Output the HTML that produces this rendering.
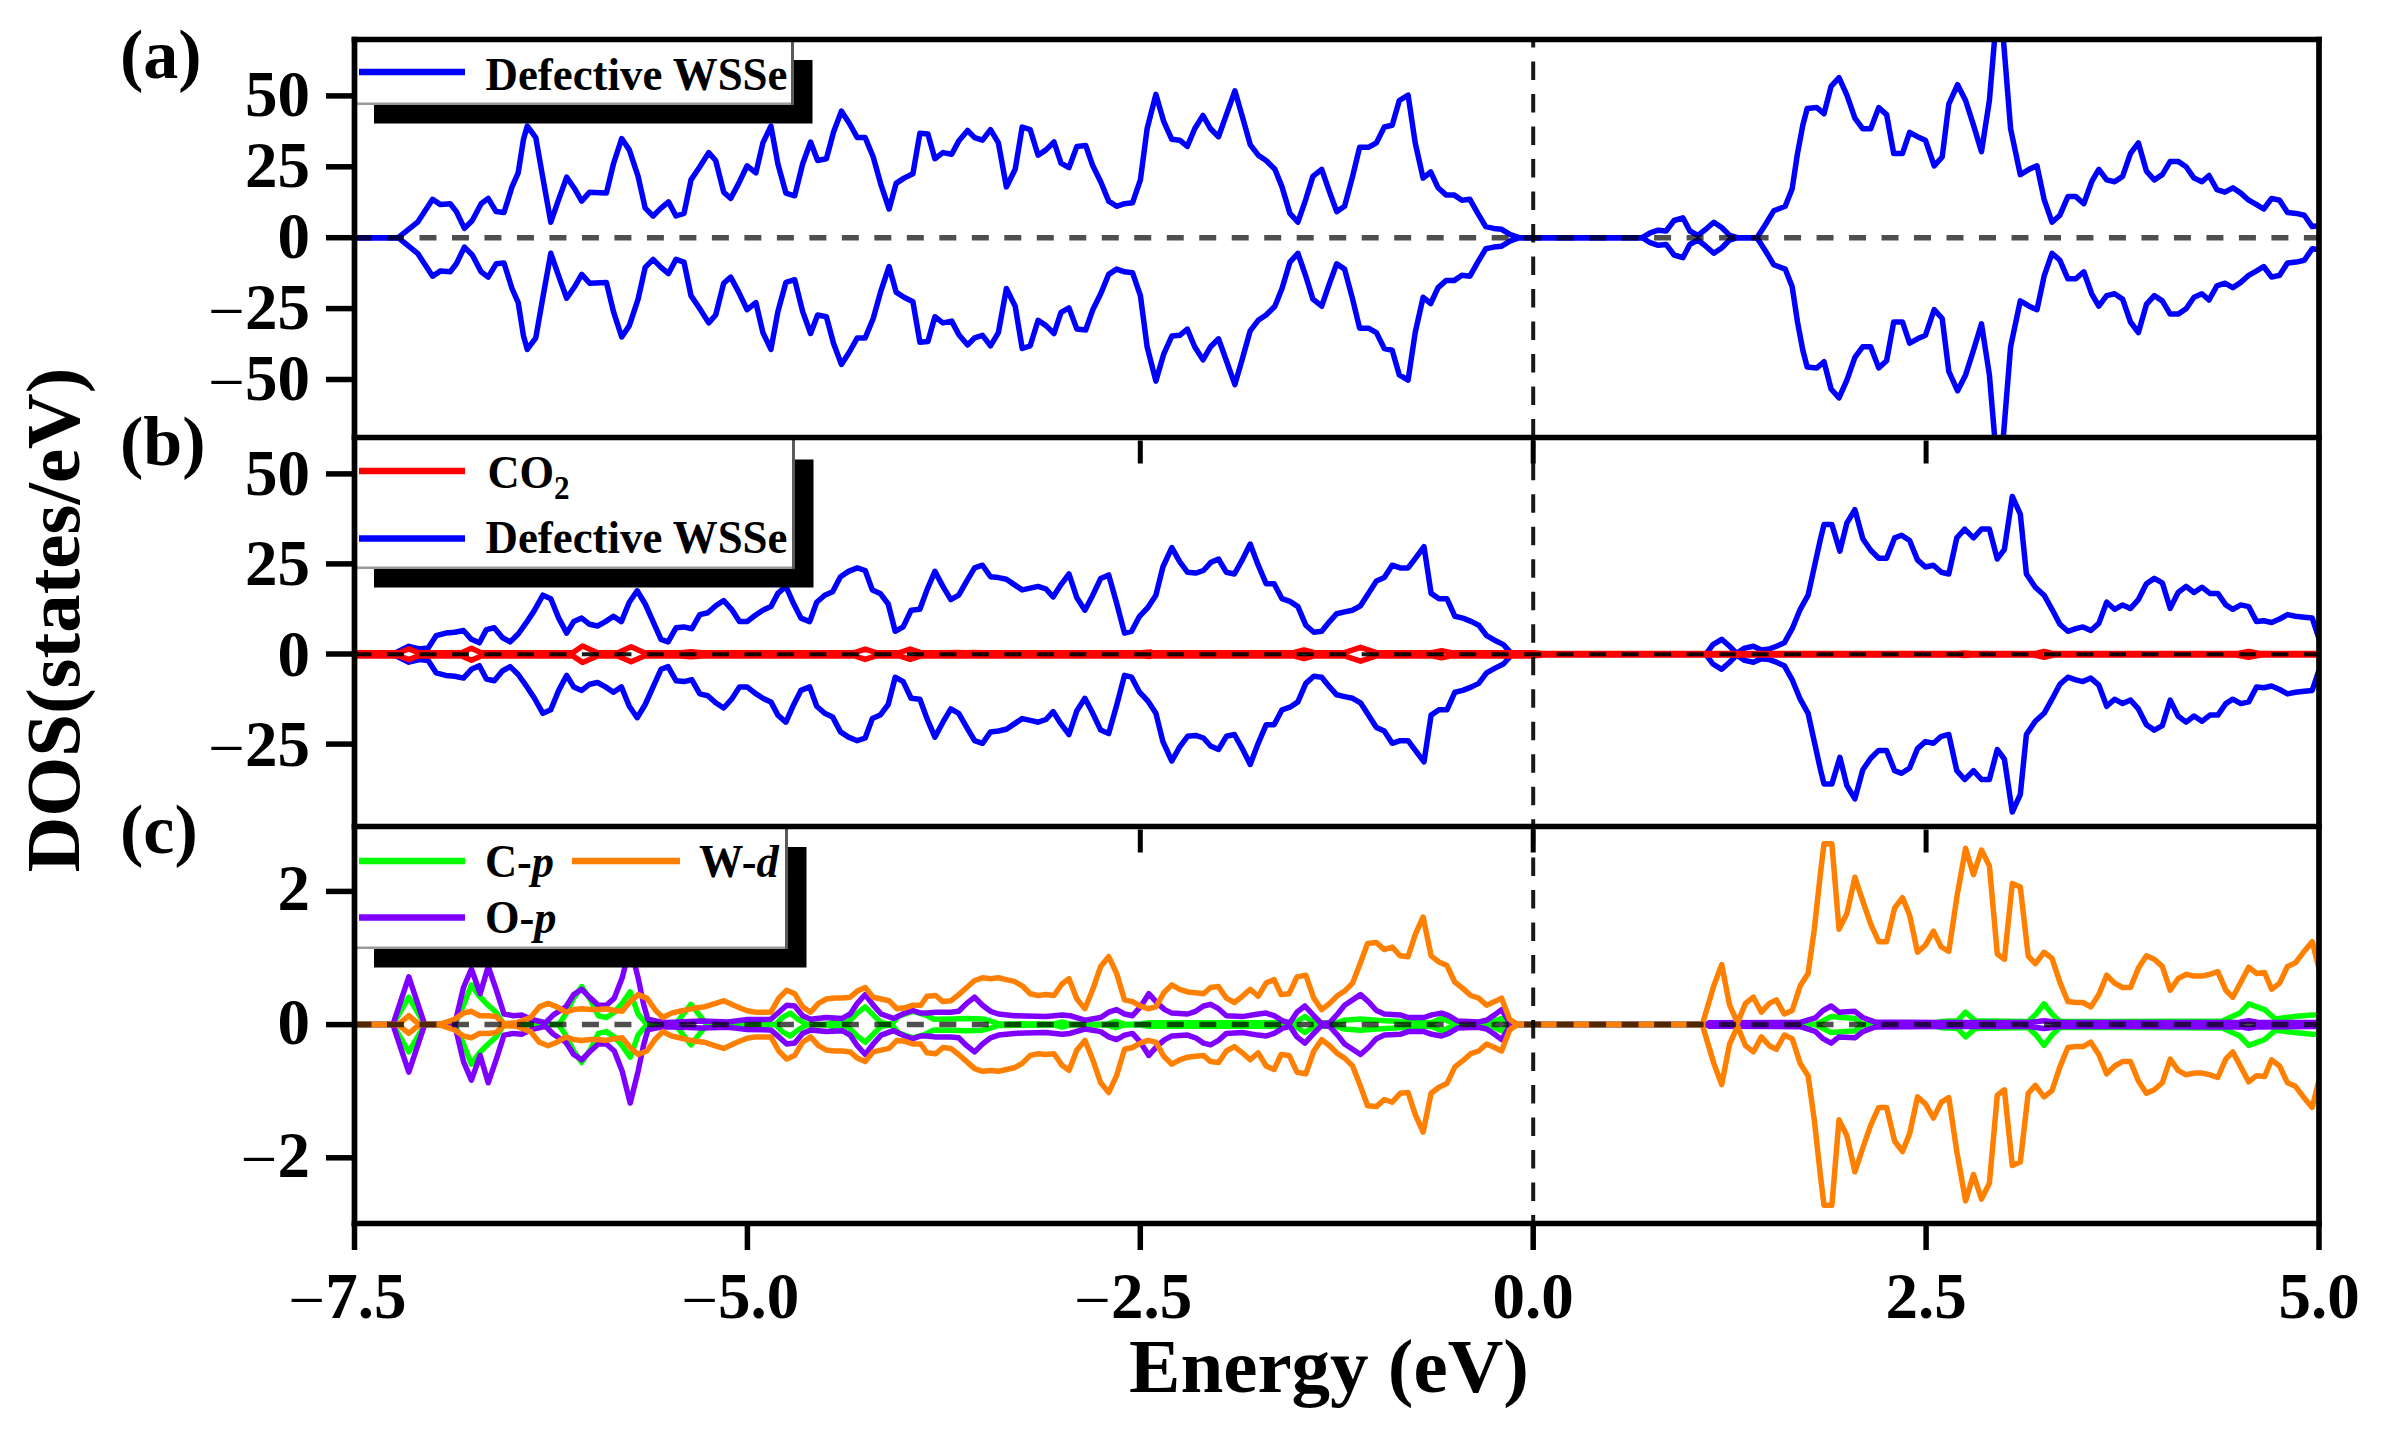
<!DOCTYPE html>
<html lang="en"><head><meta charset="utf-8"><title>DOS of defective WSSe with CO2</title>
<style>
html,body{margin:0;padding:0;background:#fff;}
body{width:2381px;height:1429px;overflow:hidden;}
svg{display:block;}
text{font-family:'Liberation Serif',serif;font-weight:bold;fill:#000;}
.m{font-weight:normal;}
.i{font-style:italic;}
</style></head>
<body>
<svg width="2381" height="1429" viewBox="0 0 2381 1429">
<rect x="0" y="0" width="2381" height="1429" fill="#fff"/>
<defs>
<clipPath id="ca"><rect x="354.5" y="39.5" width="1964.5" height="398.0"/></clipPath>
<clipPath id="cb"><rect x="354.5" y="437.5" width="1964.5" height="389.0"/></clipPath>
<clipPath id="cc"><rect x="354.5" y="826.5" width="1964.5" height="397.0"/></clipPath>
</defs>
<g clip-path="url(#ca)">
<path d="M354.1 237.7 L398.2 237.7 L417.6 222.2 L432.6 199.3 L440.5 204.6 L450.2 203.7 L456.4 211.6 L464.4 228.4 L472.3 220.5 L481.1 203.7 L488.2 198.4 L496.1 211.6 L504.0 212.5 L512.0 186.9 L518.2 172.8 L523.5 139.3 L527.3 126.1 L535.8 137.6 L542.9 178.1 L550.8 222.2 L558.7 199.3 L566.7 177.2 L574.6 188.7 L581.7 201.1 L589.6 192.2 L606.4 193.1 L613.4 164.0 L621.7 138.5 L629.3 149.9 L638.1 176.4 L645.2 208.1 L653.1 216.0 L661.0 208.1 L668.5 201.9 L676.0 216.0 L684.0 213.4 L691.0 179.9 L699.8 166.7 L708.7 152.6 L715.7 160.5 L723.7 192.2 L730.7 198.4 L738.7 183.4 L747.1 165.8 L755.9 172.8 L762.9 142.9 L770.9 126.1 L777.9 164.0 L785.9 193.1 L794.7 195.8 L802.6 164.0 L810.6 142.0 L817.6 160.5 L826.4 158.7 L833.5 132.3 L841.4 111.1 L849.4 123.5 L857.3 137.6 L865.2 137.6 L873.2 157.0 L881.1 185.2 L889.1 209.0 L896.1 183.4 L904.0 178.1 L912.9 173.7 L919.9 133.2 L927.9 134.0 L934.9 158.7 L942.9 152.6 L951.7 154.3 L958.7 141.1 L967.6 130.5 L974.6 137.6 L982.5 140.2 L990.5 129.6 L998.4 142.9 L1006.4 186.9 L1015.2 169.3 L1022.2 127.0 L1030.2 129.6 L1038.1 155.2 L1046.0 149.9 L1054.0 142.0 L1061.0 163.1 L1069.0 167.6 L1076.9 146.4 L1085.7 145.5 L1092.8 165.8 L1100.7 181.7 L1108.7 201.1 L1116.6 206.3 L1124.5 203.7 L1132.5 202.8 L1140.4 179.9 L1147.1 128.8 L1155.9 94.4 L1163.8 121.7 L1171.8 139.3 L1179.7 140.2 L1187.3 146.4 L1194.7 128.8 L1203.0 115.5 L1210.6 128.8 L1218.5 136.7 L1226.4 114.6 L1234.9 90.8 L1242.3 116.4 L1250.2 144.6 L1258.2 155.2 L1266.1 160.5 L1274.9 169.3 L1282.0 186.9 L1289.9 213.4 L1297.9 222.2 L1305.8 199.3 L1312.9 176.4 L1321.7 169.3 L1329.6 192.2 L1336.7 211.6 L1344.6 206.3 L1352.6 176.4 L1359.6 147.3 L1368.4 147.3 L1376.4 142.9 L1384.3 127.0 L1392.2 125.2 L1399.3 100.5 L1408.1 95.2 L1415.2 142.9 L1423.1 178.1 L1430.7 172.0 L1438.1 187.8 L1446.0 194.9 L1454.0 194.9 L1461.9 200.2 L1469.9 199.3 L1477.8 213.4 L1485.7 226.6 L1493.7 228.4 L1501.6 229.3 L1510.4 234.6 L1519.3 237.7 L1545.7 237.7 L1642.3 237.7 L1650.2 232.8 L1658.2 230.2 L1666.1 231.0 L1674.1 220.5 L1682.9 217.8 L1689.9 231.0 L1697.9 235.4 L1705.8 229.3 L1713.8 222.2 L1721.7 227.5 L1729.6 235.4 L1737.6 237.7 L1757.0 237.7 L1765.8 224.0 L1773.7 210.8 L1785.2 206.3 L1792.2 188.7 L1797.5 153.4 L1802.8 125.2 L1807.2 108.5 L1816.9 107.6 L1824.0 113.8 L1831.1 86.4 L1839.0 77.6 L1846.9 95.2 L1854.9 118.2 L1862.8 128.8 L1870.7 128.8 L1878.7 107.6 L1886.6 114.6 L1893.7 153.4 L1902.5 153.4 L1909.6 132.3 L1917.5 136.7 L1925.4 140.2 L1934.2 165.8 L1942.2 157.0 L1948.8 104.1 L1957.6 84.7 L1965.6 100.5 L1973.5 125.2 L1981.5 151.7 L1989.4 100.5 L1999.1 -14.1 L2010.6 128.8 L2020.3 174.6 L2029.1 169.3 L2037.0 165.8 L2044.1 199.3 L2052.0 222.2 L2059.9 215.2 L2067.9 196.6 L2075.8 196.6 L2083.8 203.7 L2091.7 181.7 L2098.8 169.3 L2106.7 179.9 L2114.6 181.7 L2122.6 176.4 L2130.5 153.4 L2138.4 142.9 L2146.4 171.1 L2154.3 179.9 L2162.3 174.6 L2170.2 161.4 L2178.1 161.4 L2186.1 166.7 L2194.0 178.1 L2201.9 181.7 L2209.0 175.5 L2216.9 189.6 L2224.9 192.2 L2232.8 187.8 L2240.8 193.1 L2248.7 200.2 L2256.6 204.6 L2263.7 209.0 L2271.6 198.4 L2279.6 200.2 L2287.5 212.5 L2296.3 213.4 L2304.3 215.2 L2312.2 226.6 L2319.3 225.7" fill="none" stroke="#0000ff" stroke-width="5.50" stroke-linejoin="round" stroke-linecap="butt"/>
<path d="M354.1 237.7 L398.2 237.7 L417.6 253.3 L432.6 276.2 L440.5 270.9 L450.2 271.8 L456.4 263.8 L464.4 247.1 L472.3 255.0 L481.1 271.8 L488.2 277.1 L496.1 263.8 L504.0 263.0 L512.0 288.5 L518.2 302.6 L523.5 336.1 L527.3 349.4 L535.8 337.9 L542.9 297.3 L550.8 253.3 L558.7 276.2 L566.7 298.2 L574.6 286.8 L581.7 274.4 L589.6 283.2 L606.4 282.4 L613.4 311.4 L621.7 337.0 L629.3 325.6 L638.1 299.1 L645.2 267.4 L653.1 259.4 L661.0 267.4 L668.5 273.5 L676.0 259.4 L684.0 262.1 L691.0 295.6 L699.8 308.8 L708.7 322.9 L715.7 315.0 L723.7 283.2 L730.7 277.1 L738.7 292.1 L747.1 309.7 L755.9 302.6 L762.9 332.6 L770.9 349.4 L777.9 311.4 L785.9 282.4 L794.7 279.7 L802.6 311.4 L810.6 333.5 L817.6 315.0 L826.4 316.7 L833.5 343.2 L841.4 364.4 L849.4 352.0 L857.3 337.9 L865.2 337.9 L873.2 318.5 L881.1 290.3 L889.1 266.5 L896.1 292.1 L904.0 297.3 L912.9 301.8 L919.9 342.3 L927.9 341.4 L934.9 316.7 L942.9 322.9 L951.7 321.1 L958.7 334.4 L967.6 345.0 L974.6 337.9 L982.5 335.3 L990.5 345.8 L998.4 332.6 L1006.4 288.5 L1015.2 306.2 L1022.2 348.5 L1030.2 345.8 L1038.1 320.3 L1046.0 325.6 L1054.0 333.5 L1061.0 312.3 L1069.0 307.9 L1076.9 329.1 L1085.7 330.0 L1092.8 309.7 L1100.7 293.8 L1108.7 274.4 L1116.6 269.1 L1124.5 271.8 L1132.5 272.7 L1140.4 295.6 L1147.1 346.7 L1155.9 381.1 L1163.8 353.8 L1171.8 336.1 L1179.7 335.3 L1187.3 329.1 L1194.7 346.7 L1203.0 359.9 L1210.6 346.7 L1218.5 338.8 L1226.4 360.8 L1234.9 384.6 L1242.3 359.1 L1250.2 330.8 L1258.2 320.3 L1266.1 315.0 L1274.9 306.2 L1282.0 288.5 L1289.9 262.1 L1297.9 253.3 L1305.8 276.2 L1312.9 299.1 L1321.7 306.2 L1329.6 283.2 L1336.7 263.8 L1344.6 269.1 L1352.6 299.1 L1359.6 328.2 L1368.4 328.2 L1376.4 332.6 L1384.3 348.5 L1392.2 350.2 L1399.3 374.9 L1408.1 380.2 L1415.2 332.6 L1423.1 297.3 L1430.7 303.5 L1438.1 287.6 L1446.0 280.6 L1454.0 280.6 L1461.9 275.3 L1469.9 276.2 L1477.8 262.1 L1485.7 248.8 L1493.7 247.1 L1501.6 246.2 L1510.4 240.9 L1519.3 237.7 L1545.7 237.7 L1642.3 237.7 L1650.2 242.7 L1658.2 245.3 L1666.1 244.4 L1674.1 255.0 L1682.9 257.7 L1689.9 244.4 L1697.9 240.0 L1705.8 246.2 L1713.8 253.3 L1721.7 248.0 L1729.6 240.0 L1737.6 237.7 L1757.0 237.7 L1765.8 251.5 L1773.7 264.7 L1785.2 269.1 L1792.2 286.8 L1797.5 322.0 L1802.8 350.2 L1807.2 367.0 L1816.9 367.9 L1824.0 361.7 L1831.1 389.0 L1839.0 397.9 L1846.9 380.2 L1854.9 357.3 L1862.8 346.7 L1870.7 346.7 L1878.7 367.9 L1886.6 360.8 L1893.7 322.0 L1902.5 322.0 L1909.6 343.2 L1917.5 338.8 L1925.4 335.3 L1934.2 309.7 L1942.2 318.5 L1948.8 371.4 L1957.6 390.8 L1965.6 374.9 L1973.5 350.2 L1981.5 323.8 L1989.4 374.9 L1999.1 489.6 L2010.6 346.7 L2020.3 300.9 L2029.1 306.2 L2037.0 309.7 L2044.1 276.2 L2052.0 253.3 L2059.9 260.3 L2067.9 278.8 L2075.8 278.8 L2083.8 271.8 L2091.7 293.8 L2098.8 306.2 L2106.7 295.6 L2114.6 293.8 L2122.6 299.1 L2130.5 322.0 L2138.4 332.6 L2146.4 304.4 L2154.3 295.6 L2162.3 300.9 L2170.2 314.1 L2178.1 314.1 L2186.1 308.8 L2194.0 297.3 L2201.9 293.8 L2209.0 300.0 L2216.9 285.9 L2224.9 283.2 L2232.8 287.6 L2240.8 282.4 L2248.7 275.3 L2256.6 270.9 L2263.7 266.5 L2271.6 277.1 L2279.6 275.3 L2287.5 263.0 L2296.3 262.1 L2304.3 260.3 L2312.2 248.8 L2319.3 249.7" fill="none" stroke="#0000ff" stroke-width="5.50" stroke-linejoin="round" stroke-linecap="butt"/>
<line x1="354.5" y1="237.7" x2="2319.0" y2="237.7" stroke="#000" stroke-opacity="0.69" stroke-width="5.5" stroke-dasharray="17 15.49" stroke-dashoffset="0.0"/>
<line x1="1533.2" y1="437.5" x2="1533.2" y2="39.5" stroke="#000" stroke-opacity="0.9" stroke-width="4" stroke-dasharray="18.5 14" stroke-dashoffset="0.0"/>
</g>
<g clip-path="url(#cb)">
<path d="M354.1 654.3 L392.9 654.3 L408.8 646.3 L419.4 649.0 L428.2 648.1 L436.1 635.7 L445.8 633.1 L454.7 632.2 L463.5 630.5 L471.4 639.3 L479.4 642.8 L486.4 629.6 L494.3 627.8 L502.3 637.5 L510.2 641.9 L518.2 634.0 L527.0 621.6 L534.0 611.1 L542.9 595.2 L550.8 598.7 L558.7 618.1 L566.7 633.1 L573.7 621.6 L581.7 618.1 L589.6 624.3 L597.5 626.0 L605.5 621.6 L613.4 616.3 L621.4 621.6 L629.3 602.2 L637.2 590.8 L645.2 604.0 L653.1 621.6 L661.0 639.3 L668.1 641.9 L676.0 627.8 L684.0 626.9 L691.9 628.7 L699.8 614.6 L707.8 612.8 L715.7 605.8 L723.7 600.5 L731.6 609.3 L739.5 621.6 L747.1 621.6 L755.0 615.5 L762.9 610.2 L770.9 606.6 L777.9 593.4 L785.9 586.4 L792.9 602.2 L800.9 618.1 L809.7 621.6 L816.7 602.2 L824.7 595.2 L832.6 591.7 L840.5 576.7 L848.5 571.4 L857.3 567.9 L865.2 570.5 L872.3 589.9 L880.2 593.4 L888.2 604.0 L895.2 631.3 L903.2 626.9 L911.1 610.2 L919.9 609.3 L927.0 589.9 L934.9 571.4 L942.9 586.4 L950.8 599.6 L958.7 595.2 L966.7 581.1 L974.6 567.9 L982.5 565.2 L990.5 576.7 L998.4 577.6 L1006.4 579.3 L1014.3 584.6 L1022.2 589.9 L1030.2 588.1 L1038.1 586.4 L1046.0 589.0 L1053.1 596.9 L1061.0 584.6 L1069.0 574.0 L1076.9 597.8 L1084.9 610.2 L1092.8 595.2 L1100.7 578.4 L1108.7 574.9 L1116.6 603.1 L1124.5 633.1 L1131.6 631.3 L1139.5 616.3 L1147.9 607.5 L1155.9 595.2 L1162.9 567.0 L1171.8 547.6 L1179.7 561.7 L1187.6 572.3 L1195.6 573.1 L1203.5 570.5 L1210.6 562.6 L1218.5 559.0 L1226.4 572.3 L1234.4 574.0 L1242.3 559.9 L1250.2 544.0 L1258.2 565.2 L1266.1 583.7 L1274.1 583.7 L1282.0 598.7 L1289.9 601.4 L1297.9 606.6 L1305.8 625.2 L1313.8 632.2 L1321.7 631.3 L1329.6 621.6 L1336.7 613.7 L1344.6 611.9 L1352.6 610.2 L1360.5 605.8 L1368.4 593.4 L1376.4 581.1 L1384.3 577.6 L1392.2 565.2 L1400.2 567.9 L1408.1 567.9 L1416.1 557.3 L1424.0 546.7 L1431.1 593.4 L1439.0 598.7 L1446.9 598.7 L1454.9 616.3 L1462.8 618.1 L1471.6 621.6 L1478.7 625.2 L1486.6 635.7 L1494.6 640.2 L1503.4 644.6 L1512.2 654.3 L1545.7 654.3 L1705.8 654.3 L1712.9 644.6 L1721.7 639.3 L1729.6 646.3 L1736.7 653.4 L1744.6 648.1 L1753.4 646.3 L1761.4 649.9 L1769.3 649.0 L1776.4 646.3 L1784.3 642.8 L1792.2 628.7 L1800.2 609.3 L1808.1 595.2 L1814.3 567.0 L1820.5 538.8 L1824.0 524.6 L1831.9 524.6 L1839.9 551.1 L1846.9 522.9 L1854.9 509.7 L1862.8 538.8 L1870.7 550.2 L1878.7 558.2 L1886.6 558.2 L1894.6 537.9 L1901.6 535.2 L1909.6 540.5 L1917.5 559.9 L1925.4 567.0 L1933.4 565.2 L1941.3 572.3 L1948.8 574.0 L1956.8 537.9 L1964.7 529.1 L1973.5 537.9 L1981.5 529.1 L1989.4 529.1 L1997.3 559.0 L2004.4 549.3 L2012.3 496.4 L2020.3 514.1 L2026.4 574.0 L2035.3 587.2 L2044.1 595.2 L2052.0 609.3 L2059.9 624.3 L2067.9 631.3 L2075.8 628.7 L2082.9 626.9 L2090.8 630.5 L2098.8 623.4 L2106.7 602.2 L2114.6 609.3 L2122.6 604.9 L2130.5 608.4 L2138.4 599.6 L2146.4 583.7 L2154.3 578.4 L2162.3 582.8 L2170.2 608.4 L2178.1 592.5 L2186.1 586.4 L2194.0 592.5 L2201.9 587.2 L2209.9 593.4 L2217.8 593.4 L2225.8 604.9 L2232.8 609.3 L2240.8 604.9 L2248.7 606.6 L2256.6 621.6 L2263.7 620.8 L2271.6 622.5 L2279.6 619.0 L2287.5 614.6 L2295.4 616.3 L2304.3 617.2 L2312.2 618.1 L2319.3 639.3" fill="none" stroke="#0000ff" stroke-width="5.50" stroke-linejoin="round" stroke-linecap="butt"/>
<path d="M354.1 654.3 L392.9 654.3 L408.8 662.2 L419.4 659.6 L428.2 660.4 L436.1 672.8 L445.8 675.4 L454.7 676.3 L463.5 678.1 L471.4 669.3 L479.4 665.7 L486.4 679.0 L494.3 680.7 L502.3 671.0 L510.2 666.6 L518.2 674.5 L527.0 686.9 L534.0 697.5 L542.9 713.3 L550.8 709.8 L558.7 690.4 L566.7 675.4 L573.7 686.9 L581.7 690.4 L589.6 684.2 L597.5 682.5 L605.5 686.9 L613.4 692.2 L621.4 686.9 L629.3 706.3 L637.2 717.7 L645.2 704.5 L653.1 686.9 L661.0 669.3 L668.1 666.6 L676.0 680.7 L684.0 681.6 L691.9 679.8 L699.8 693.9 L707.8 695.7 L715.7 702.8 L723.7 708.0 L731.6 699.2 L739.5 686.9 L747.1 686.9 L755.0 693.1 L762.9 698.3 L770.9 701.9 L777.9 715.1 L785.9 722.2 L792.9 706.3 L800.9 690.4 L809.7 686.9 L816.7 706.3 L824.7 713.3 L832.6 716.9 L840.5 731.9 L848.5 737.1 L857.3 740.7 L865.2 738.0 L872.3 718.6 L880.2 715.1 L888.2 704.5 L895.2 677.2 L903.2 681.6 L911.1 698.3 L919.9 699.2 L927.0 718.6 L934.9 737.1 L942.9 722.2 L950.8 708.9 L958.7 713.3 L966.7 727.4 L974.6 740.7 L982.5 743.3 L990.5 731.9 L998.4 731.0 L1006.4 729.2 L1014.3 723.9 L1022.2 718.6 L1030.2 720.4 L1038.1 722.2 L1046.0 719.5 L1053.1 711.6 L1061.0 723.9 L1069.0 734.5 L1076.9 710.7 L1084.9 698.3 L1092.8 713.3 L1100.7 730.1 L1108.7 733.6 L1116.6 705.4 L1124.5 675.4 L1131.6 677.2 L1139.5 692.2 L1147.9 701.0 L1155.9 713.3 L1162.9 741.6 L1171.8 761.0 L1179.7 746.8 L1187.6 736.3 L1195.6 735.4 L1203.5 738.0 L1210.6 746.0 L1218.5 749.5 L1226.4 736.3 L1234.4 734.5 L1242.3 748.6 L1250.2 764.5 L1258.2 743.3 L1266.1 724.8 L1274.1 724.8 L1282.0 709.8 L1289.9 707.2 L1297.9 701.9 L1305.8 683.4 L1313.8 676.3 L1321.7 677.2 L1329.6 686.9 L1336.7 694.8 L1344.6 696.6 L1352.6 698.3 L1360.5 702.8 L1368.4 715.1 L1376.4 727.4 L1384.3 731.0 L1392.2 743.3 L1400.2 740.7 L1408.1 740.7 L1416.1 751.3 L1424.0 761.8 L1431.1 715.1 L1439.0 709.8 L1446.9 709.8 L1454.9 692.2 L1462.8 690.4 L1471.6 686.9 L1478.7 683.4 L1486.6 672.8 L1494.6 668.4 L1503.4 664.0 L1512.2 654.3 L1545.7 654.3 L1705.8 654.3 L1712.9 664.0 L1721.7 669.3 L1729.6 662.2 L1736.7 655.1 L1744.6 660.4 L1753.4 662.2 L1761.4 658.7 L1769.3 659.6 L1776.4 662.2 L1784.3 665.7 L1792.2 679.8 L1800.2 699.2 L1808.1 713.3 L1814.3 741.6 L1820.5 769.8 L1824.0 783.9 L1831.9 783.9 L1839.9 757.4 L1846.9 785.6 L1854.9 798.9 L1862.8 769.8 L1870.7 758.3 L1878.7 750.4 L1886.6 750.4 L1894.6 770.7 L1901.6 773.3 L1909.6 768.0 L1917.5 748.6 L1925.4 741.6 L1933.4 743.3 L1941.3 736.3 L1948.8 734.5 L1956.8 770.7 L1964.7 779.5 L1973.5 770.7 L1981.5 779.5 L1989.4 779.5 L1997.3 749.5 L2004.4 759.2 L2012.3 812.1 L2020.3 794.5 L2026.4 734.5 L2035.3 721.3 L2044.1 713.3 L2052.0 699.2 L2059.9 684.2 L2067.9 677.2 L2075.8 679.8 L2082.9 681.6 L2090.8 678.1 L2098.8 685.1 L2106.7 706.3 L2114.6 699.2 L2122.6 703.6 L2130.5 700.1 L2138.4 708.9 L2146.4 724.8 L2154.3 730.1 L2162.3 725.7 L2170.2 700.1 L2178.1 716.0 L2186.1 722.2 L2194.0 716.0 L2201.9 721.3 L2209.9 715.1 L2217.8 715.1 L2225.8 703.6 L2232.8 699.2 L2240.8 703.6 L2248.7 701.9 L2256.6 686.9 L2263.7 687.8 L2271.6 686.0 L2279.6 689.5 L2287.5 693.9 L2295.4 692.2 L2304.3 691.3 L2312.2 690.4 L2319.3 669.3" fill="none" stroke="#0000ff" stroke-width="5.50" stroke-linejoin="round" stroke-linecap="butt"/>
<path d="M354.5 652.7 L399.1 652.7 L408.8 648.9 L418.5 652.7 L461.7 652.7 L471.4 648.2 L481.1 652.7 L489.9 652.7 L498.8 652.7 L555.2 652.7 L564.0 652.7 L572.8 652.7 L582.5 646.1 L597.5 652.7 L617.8 652.7 L631.1 646.8 L644.3 652.7 L680.4 652.7 L691.0 651.7 L701.6 652.7 L733.4 652.7 L742.2 652.7 L751.0 652.7 L780.6 652.7 L789.4 652.7 L798.2 652.7 L854.7 652.7 L865.2 649.1 L875.8 652.7 L899.6 652.7 L910.2 649.1 L920.8 652.7 L948.1 652.7 L957.0 652.4 L965.8 652.7 L972.8 652.4 L981.7 652.7 L1037.2 652.7 L1045.2 652.7 L1053.1 652.7 L1106.0 652.7 L1114.0 652.7 L1121.9 652.7 L1141.8 652.7 L1150.6 652.1 L1151.0 652.7 L1158.9 652.7 L1159.4 652.7 L1199.1 652.7 L1207.0 652.7 L1215.0 652.7 L1293.5 652.7 L1304.0 650.0 L1314.6 652.7 L1344.6 652.7 L1360.5 647.3 L1376.4 652.7 L1431.9 652.7 L1441.6 650.8 L1451.3 652.7 L1533.2 652.7 L1543.2 653.6 L1957.6 653.6 L1964.7 653.1 L1971.8 653.6 L2034.4 653.6 L2044.1 651.4 L2053.8 653.6 L2236.3 653.6 L2248.7 651.4 L2261.0 653.6 L2319.0 653.6" fill="none" stroke="#ff0000" stroke-width="5.50" stroke-linejoin="round" stroke-linecap="butt"/>
<path d="M354.5 655.9 L399.1 655.9 L408.8 659.6 L418.5 655.9 L461.7 655.9 L471.4 660.3 L481.1 655.9 L489.9 655.9 L498.8 655.9 L555.2 655.9 L564.0 655.9 L572.8 655.9 L582.5 662.4 L597.5 655.9 L617.8 655.9 L631.1 661.7 L644.3 655.9 L680.4 655.9 L691.0 656.8 L701.6 655.9 L733.4 655.9 L742.2 655.9 L751.0 655.9 L780.6 655.9 L789.4 655.9 L798.2 655.9 L854.7 655.9 L865.2 659.4 L875.8 655.9 L899.6 655.9 L910.2 659.4 L920.8 655.9 L948.1 655.9 L957.0 656.1 L965.8 655.9 L972.8 656.1 L981.7 655.9 L1037.2 655.9 L1045.2 655.9 L1053.1 655.9 L1106.0 655.9 L1114.0 655.9 L1121.9 655.9 L1141.8 655.9 L1150.6 656.4 L1151.0 655.9 L1158.9 655.9 L1159.4 655.9 L1199.1 655.9 L1207.0 655.9 L1215.0 655.9 L1293.5 655.9 L1304.0 658.6 L1314.6 655.9 L1344.6 655.9 L1360.5 661.2 L1376.4 655.9 L1431.9 655.9 L1441.6 657.7 L1451.3 655.9 L1533.2 655.9 L1543.2 655.0 L1957.6 655.0 L1964.7 655.4 L1971.8 655.0 L2034.4 655.0 L2044.1 657.2 L2053.8 655.0 L2236.3 655.0 L2248.7 657.2 L2261.0 655.0 L2319.0 655.0" fill="none" stroke="#ff0000" stroke-width="5.50" stroke-linejoin="round" stroke-linecap="butt"/>
<line x1="354.5" y1="654.3" x2="2319.0" y2="654.3" stroke="#000" stroke-opacity="0.9" stroke-width="4" stroke-dasharray="17 15.49"/>
<line x1="1533.2" y1="826.5" x2="1533.2" y2="437.5" stroke="#000" stroke-opacity="0.9" stroke-width="4" stroke-dasharray="18.5 14" stroke-dashoffset="11.3"/>
</g>
<g clip-path="url(#cc)">
<path d="M354.1 1024.6 L392.9 1024.6 L408.8 997.2 L424.7 1024.6 L454.7 1024.6 L463.5 1005.2 L471.4 984.9 L479.4 996.3 L488.2 1005.2 L496.1 1012.2 L504.0 1024.6 L558.7 1024.6 L565.8 1014.0 L573.7 998.1 L581.7 986.6 L590.5 999.9 L598.4 1015.7 L606.4 1017.5 L614.3 1012.2 L622.2 1003.4 L630.2 991.9 L638.1 1014.0 L646.9 1024.6 L675.2 1024.6 L691.0 1004.3 L706.9 1024.6 L738.7 1024.6 L775.3 1024.6 L782.3 1017.5 L790.3 1013.1 L798.2 1019.3 L807.0 1024.6 L826.4 1024.2 L835.3 1021.9 L842.3 1024.2 L849.4 1021.0 L857.3 1013.1 L865.2 1006.9 L873.2 1014.9 L881.1 1022.8 L891.7 1024.2 L898.8 1016.1 L912.9 1011.3 L925.2 1014.9 L934.0 1019.3 L950.8 1018.9 L966.7 1018.4 L982.5 1018.9 L990.5 1021.0 L998.4 1023.7 L1054.0 1024.2 L1061.9 1021.9 L1069.9 1024.2 L1106.9 1024.2 L1115.7 1021.4 L1124.5 1024.2 L1140.4 1024.2 L1148.8 1022.8 L1295.2 1022.8 L1304.9 1016.6 L1314.6 1022.8 L1335.8 1022.8 L1344.6 1020.2 L1360.5 1018.9 L1376.4 1020.2 L1400.2 1021.4 L1431.1 1022.8 L1441.6 1018.4 L1452.2 1022.8 L1491.0 1022.8 L1501.6 1018.4 L1510.4 1024.6 L1545.7 1024.6 L1815.2 1024.6 L1831.1 1016.6 L1854.9 1018.4 L1862.8 1024.6 L1928.1 1024.2 L1942.2 1021.4 L1948.8 1021.0 L1957.6 1020.7 L1965.6 1012.2 L1975.3 1020.7 L2028.2 1021.6 L2036.1 1014.0 L2044.1 1003.8 L2052.0 1014.0 L2059.9 1021.6 L2116.4 1021.6 L2222.2 1021.0 L2239.9 1013.1 L2248.7 1003.8 L2264.6 1009.6 L2275.2 1018.9 L2294.6 1016.6 L2312.2 1014.9 L2319.3 1014.9" fill="none" stroke="#00ff00" stroke-width="5.50" stroke-linejoin="round" stroke-linecap="butt"/>
<path d="M354.1 1024.6 L392.9 1024.6 L408.8 1051.9 L424.7 1024.6 L454.7 1024.6 L463.5 1044.0 L471.4 1064.2 L479.4 1052.8 L488.2 1044.0 L496.1 1036.9 L504.0 1024.6 L558.7 1024.6 L565.8 1035.1 L573.7 1051.0 L581.7 1062.5 L590.5 1049.3 L598.4 1033.4 L606.4 1031.6 L614.3 1036.9 L622.2 1045.7 L630.2 1057.2 L638.1 1035.1 L646.9 1024.6 L675.2 1024.6 L691.0 1044.8 L706.9 1024.6 L738.7 1024.6 L775.3 1024.6 L782.3 1031.6 L790.3 1036.0 L798.2 1029.9 L807.0 1024.6 L826.4 1024.9 L835.3 1027.2 L842.3 1024.9 L849.4 1028.1 L857.3 1036.0 L865.2 1042.2 L873.2 1034.3 L881.1 1026.3 L891.7 1024.9 L898.8 1033.0 L912.9 1037.8 L925.2 1034.3 L934.0 1029.9 L950.8 1030.2 L966.7 1030.7 L982.5 1030.2 L990.5 1028.1 L998.4 1025.4 L1054.0 1024.9 L1061.9 1027.2 L1069.9 1024.9 L1106.9 1024.9 L1115.7 1027.7 L1124.5 1024.9 L1140.4 1024.9 L1148.8 1026.3 L1295.2 1026.3 L1304.9 1032.5 L1314.6 1026.3 L1335.8 1026.3 L1344.6 1029.0 L1360.5 1030.2 L1376.4 1029.0 L1400.2 1027.7 L1431.1 1026.3 L1441.6 1030.7 L1452.2 1026.3 L1491.0 1026.3 L1501.6 1030.7 L1510.4 1024.6 L1545.7 1024.6 L1815.2 1024.6 L1831.1 1032.5 L1854.9 1030.7 L1862.8 1024.6 L1928.1 1024.9 L1942.2 1027.7 L1948.8 1028.1 L1957.6 1028.4 L1965.6 1036.9 L1975.3 1028.4 L2028.2 1027.6 L2036.1 1035.1 L2044.1 1045.4 L2052.0 1035.1 L2059.9 1027.6 L2116.4 1027.6 L2222.2 1028.1 L2239.9 1036.0 L2248.7 1045.4 L2264.6 1039.6 L2275.2 1030.2 L2294.6 1032.5 L2312.2 1034.3 L2319.3 1034.3" fill="none" stroke="#00ff00" stroke-width="5.50" stroke-linejoin="round" stroke-linecap="butt"/>
<path d="M354.1 1024.6 L392.9 1024.6 L408.8 976.9 L424.7 1024.6 L454.7 1024.6 L463.5 987.5 L471.4 969.0 L480.2 993.7 L488.2 966.4 L496.1 989.3 L504.0 1014.0 L513.8 1015.7 L521.7 1014.9 L530.5 1019.3 L545.5 1022.8 L553.4 1014.9 L565.8 1006.9 L573.7 994.6 L581.7 989.3 L590.5 998.1 L598.4 1005.2 L606.4 1005.2 L614.3 998.1 L622.2 977.8 L630.2 946.1 L638.1 977.8 L643.4 1003.4 L647.8 1019.3 L655.7 1021.0 L666.3 1022.4 L701.6 1021.0 L728.1 1021.9 L747.1 1019.6 L770.9 1019.3 L778.8 1012.2 L786.7 1005.2 L794.7 1006.0 L802.6 1015.7 L810.6 1019.3 L826.4 1017.5 L842.3 1018.4 L850.2 1014.0 L857.3 1003.4 L865.2 994.6 L873.2 1005.2 L881.1 1014.0 L893.5 1018.4 L904.9 1013.1 L912.9 1010.5 L920.8 1013.1 L927.0 1013.1 L935.8 1012.2 L950.8 1012.2 L958.7 1011.3 L966.7 1003.4 L974.6 997.2 L982.5 1005.2 L990.5 1011.3 L998.4 1014.0 L1014.3 1015.7 L1046.0 1016.6 L1061.9 1014.9 L1069.9 1015.7 L1084.9 1020.2 L1100.7 1017.5 L1108.7 1012.2 L1116.6 1009.6 L1124.5 1014.0 L1132.5 1015.7 L1140.4 1006.9 L1148.8 993.7 L1157.6 1003.4 L1164.7 1009.6 L1171.8 1013.1 L1187.6 1014.0 L1195.6 1011.3 L1203.5 1006.0 L1210.6 1004.3 L1218.5 1008.7 L1226.4 1015.7 L1242.3 1016.6 L1258.2 1014.0 L1266.1 1013.1 L1274.1 1015.7 L1282.9 1021.0 L1289.9 1022.8 L1297.0 1012.2 L1304.9 1006.0 L1313.8 1015.7 L1321.7 1023.7 L1329.6 1022.8 L1337.6 1014.0 L1344.6 1005.2 L1352.6 999.9 L1360.5 994.6 L1368.4 1001.6 L1376.4 1010.5 L1384.3 1014.0 L1400.2 1014.9 L1408.1 1017.5 L1424.0 1017.5 L1431.9 1014.9 L1441.6 1013.1 L1448.7 1015.7 L1457.5 1021.0 L1478.7 1021.9 L1486.6 1020.2 L1494.6 1014.9 L1501.6 1009.6 L1509.6 1022.8 L1514.0 1024.6 L1545.7 1024.6 L1705.8 1024.6 L1709.3 1022.8 L1800.2 1022.4 L1815.2 1017.9 L1823.1 1010.5 L1831.1 1006.0 L1839.0 1012.2 L1854.9 1011.3 L1862.8 1017.5 L1875.2 1022.1 L1940.4 1022.6 L1957.6 1022.6 L2028.2 1022.6 L2044.1 1020.7 L2059.9 1022.6 L2116.4 1022.6 L2239.9 1022.3 L2248.7 1020.7 L2257.5 1022.3 L2319.3 1022.6" fill="none" stroke="#8000ff" stroke-width="5.50" stroke-linejoin="round" stroke-linecap="butt"/>
<path d="M354.1 1024.6 L392.9 1024.6 L408.8 1072.2 L424.7 1024.6 L454.7 1024.6 L463.5 1061.6 L471.4 1080.1 L480.2 1055.4 L488.2 1082.8 L496.1 1059.8 L504.0 1035.1 L513.8 1033.4 L521.7 1034.3 L530.5 1029.9 L545.5 1026.3 L553.4 1034.3 L565.8 1042.2 L573.7 1054.5 L581.7 1059.8 L590.5 1051.0 L598.4 1044.0 L606.4 1044.0 L614.3 1051.0 L622.2 1071.3 L630.2 1103.0 L638.1 1071.3 L643.4 1045.7 L647.8 1029.9 L655.7 1028.1 L666.3 1026.7 L701.6 1028.1 L728.1 1027.2 L747.1 1029.5 L770.9 1029.9 L778.8 1036.9 L786.7 1044.0 L794.7 1043.1 L802.6 1033.4 L810.6 1029.9 L826.4 1031.6 L842.3 1030.7 L850.2 1035.1 L857.3 1045.7 L865.2 1054.5 L873.2 1044.0 L881.1 1035.1 L893.5 1030.7 L904.9 1036.0 L912.9 1038.7 L920.8 1036.0 L927.0 1036.0 L935.8 1036.9 L950.8 1036.9 L958.7 1037.8 L966.7 1045.7 L974.6 1051.9 L982.5 1044.0 L990.5 1037.8 L998.4 1035.1 L1014.3 1033.4 L1046.0 1032.5 L1061.9 1034.3 L1069.9 1033.4 L1084.9 1029.0 L1100.7 1031.6 L1108.7 1036.9 L1116.6 1039.6 L1124.5 1035.1 L1132.5 1033.4 L1140.4 1042.2 L1148.8 1055.4 L1157.6 1045.7 L1164.7 1039.6 L1171.8 1036.0 L1187.6 1035.1 L1195.6 1037.8 L1203.5 1043.1 L1210.6 1044.8 L1218.5 1040.4 L1226.4 1033.4 L1242.3 1032.5 L1258.2 1035.1 L1266.1 1036.0 L1274.1 1033.4 L1282.9 1028.1 L1289.9 1026.3 L1297.0 1036.9 L1304.9 1043.1 L1313.8 1033.4 L1321.7 1025.4 L1329.6 1026.3 L1337.6 1035.1 L1344.6 1044.0 L1352.6 1049.3 L1360.5 1054.5 L1368.4 1047.5 L1376.4 1038.7 L1384.3 1035.1 L1400.2 1034.3 L1408.1 1031.6 L1424.0 1031.6 L1431.9 1034.3 L1441.6 1036.0 L1448.7 1033.4 L1457.5 1028.1 L1478.7 1027.2 L1486.6 1029.0 L1494.6 1034.3 L1501.6 1039.6 L1509.6 1026.3 L1514.0 1024.6 L1545.7 1024.6 L1705.8 1024.6 L1709.3 1026.3 L1800.2 1026.7 L1815.2 1031.3 L1823.1 1038.7 L1831.1 1043.1 L1839.0 1036.9 L1854.9 1037.8 L1862.8 1031.6 L1875.2 1027.0 L1940.4 1026.5 L1957.6 1026.5 L2028.2 1026.5 L2044.1 1028.4 L2059.9 1026.5 L2116.4 1026.5 L2239.9 1026.9 L2248.7 1028.4 L2257.5 1026.9 L2319.3 1026.5" fill="none" stroke="#8000ff" stroke-width="5.50" stroke-linejoin="round" stroke-linecap="butt"/>
<path d="M354.1 1024.6 L398.2 1024.6 L408.8 1015.7 L419.4 1024.6 L438.8 1024.6 L454.7 1019.3 L463.5 1013.1 L471.4 1011.3 L479.4 1015.7 L488.2 1015.7 L496.1 1016.6 L504.0 1023.7 L516.4 1022.8 L530.5 1017.5 L539.3 1006.9 L548.1 1003.4 L557.0 1006.9 L565.8 1012.2 L573.7 1009.6 L581.7 1008.7 L590.5 1009.6 L598.4 1009.6 L606.4 1008.7 L614.3 1010.5 L622.2 1011.3 L630.2 1001.6 L638.1 994.6 L646.9 998.1 L655.7 1010.5 L662.8 1017.5 L671.6 1013.1 L679.6 1011.3 L687.5 1009.6 L696.3 1007.8 L704.3 1006.9 L712.2 1004.3 L723.7 1000.8 L731.6 1004.3 L739.5 1007.8 L747.1 1010.8 L755.9 1012.2 L770.9 1012.2 L778.8 998.1 L786.7 990.2 L794.7 993.7 L802.6 1006.9 L810.6 1012.2 L818.5 1003.4 L826.4 999.0 L834.4 998.1 L842.3 998.1 L850.2 997.2 L857.3 991.1 L865.2 987.5 L873.2 997.2 L881.1 999.0 L889.1 1000.8 L897.0 1008.7 L904.9 1007.8 L912.9 1005.2 L920.8 1005.2 L927.0 996.3 L935.8 995.5 L942.9 1001.6 L950.8 1000.8 L958.7 994.6 L966.7 987.5 L974.6 980.5 L982.5 977.8 L990.5 978.7 L998.4 977.8 L1006.4 979.6 L1014.3 981.4 L1022.2 985.8 L1030.2 993.7 L1038.1 995.5 L1046.0 994.6 L1054.0 995.5 L1061.9 984.0 L1069.0 978.7 L1076.9 999.0 L1084.9 1008.7 L1092.8 989.3 L1100.7 966.4 L1108.7 956.7 L1116.6 973.4 L1124.5 999.9 L1132.5 1001.6 L1140.4 1006.0 L1147.9 1008.7 L1155.9 1006.9 L1163.8 992.8 L1171.8 984.9 L1179.7 989.3 L1187.6 991.9 L1195.6 992.8 L1203.5 993.7 L1210.6 987.5 L1218.5 986.6 L1226.4 998.1 L1234.4 1002.5 L1242.3 996.3 L1250.2 989.3 L1258.2 996.3 L1266.1 983.1 L1274.1 979.6 L1281.1 994.6 L1289.1 993.7 L1297.0 976.9 L1305.8 975.2 L1313.8 998.1 L1321.7 1009.6 L1329.6 1003.4 L1337.6 995.5 L1344.6 991.1 L1352.6 983.1 L1360.5 962.8 L1367.6 943.4 L1376.4 942.6 L1384.3 949.6 L1392.2 947.0 L1400.2 955.8 L1408.1 956.7 L1415.2 934.6 L1423.1 917.0 L1431.1 955.8 L1439.0 962.0 L1446.9 965.5 L1454.9 982.2 L1462.8 988.4 L1470.7 995.5 L1478.7 998.1 L1486.6 1005.2 L1494.6 1001.6 L1501.6 998.1 L1509.6 1019.3 L1517.5 1024.6 L1545.7 1024.6 L1702.3 1024.6 L1713.8 985.8 L1721.7 964.6 L1729.6 1005.2 L1737.6 1022.8 L1745.5 1003.4 L1753.4 997.2 L1761.4 1012.2 L1769.3 1003.4 L1776.4 999.9 L1784.3 1014.0 L1792.2 1010.5 L1800.2 985.8 L1808.1 973.4 L1814.3 929.3 L1820.5 872.9 L1824.0 843.8 L1831.9 843.8 L1839.0 929.3 L1846.9 913.5 L1854.9 877.3 L1862.8 901.1 L1870.7 924.0 L1878.7 941.7 L1886.6 941.7 L1894.6 908.2 L1902.5 897.6 L1909.6 915.2 L1917.5 952.3 L1925.4 945.2 L1933.4 931.1 L1941.3 947.0 L1948.8 951.4 L1956.8 897.6 L1965.6 848.2 L1973.5 874.7 L1981.5 850.0 L1989.4 865.9 L1997.3 954.0 L2004.4 959.3 L2012.3 883.5 L2020.3 887.0 L2028.2 955.8 L2035.3 963.7 L2044.1 952.3 L2052.0 958.4 L2059.9 982.2 L2067.9 1001.6 L2075.8 1002.5 L2082.9 1002.5 L2090.8 1006.9 L2098.8 994.6 L2106.7 975.2 L2114.6 983.1 L2122.6 987.5 L2130.5 987.5 L2138.4 968.1 L2146.4 955.8 L2154.3 959.3 L2162.3 966.4 L2170.2 990.2 L2178.1 978.7 L2186.1 974.3 L2194.0 976.1 L2201.9 976.1 L2209.9 974.3 L2217.8 971.7 L2225.8 990.2 L2232.8 997.2 L2240.8 982.2 L2248.7 967.2 L2256.6 973.4 L2264.6 972.5 L2271.6 989.3 L2279.6 983.1 L2287.5 966.4 L2295.4 962.8 L2303.4 952.3 L2312.2 941.7 L2319.3 969.9" fill="none" stroke="#ff8000" stroke-width="5.50" stroke-linejoin="round" stroke-linecap="butt"/>
<path d="M354.1 1024.6 L398.2 1024.6 L408.8 1033.4 L419.4 1024.6 L438.8 1024.6 L454.7 1029.9 L463.5 1036.0 L471.4 1037.8 L479.4 1033.4 L488.2 1033.4 L496.1 1032.5 L504.0 1025.4 L516.4 1026.3 L530.5 1031.6 L539.3 1042.2 L548.1 1045.7 L557.0 1042.2 L565.8 1036.9 L573.7 1039.6 L581.7 1040.4 L590.5 1039.6 L598.4 1039.6 L606.4 1040.4 L614.3 1038.7 L622.2 1037.8 L630.2 1047.5 L638.1 1054.5 L646.9 1051.0 L655.7 1038.7 L662.8 1031.6 L671.6 1036.0 L679.6 1037.8 L687.5 1039.6 L696.3 1041.3 L704.3 1042.2 L712.2 1044.8 L723.7 1048.4 L731.6 1044.8 L739.5 1041.3 L747.1 1038.3 L755.9 1036.9 L770.9 1036.9 L778.8 1051.0 L786.7 1059.0 L794.7 1055.4 L802.6 1042.2 L810.6 1036.9 L818.5 1045.7 L826.4 1050.1 L834.4 1051.0 L842.3 1051.0 L850.2 1051.9 L857.3 1058.1 L865.2 1061.6 L873.2 1051.9 L881.1 1050.1 L889.1 1048.4 L897.0 1040.4 L904.9 1041.3 L912.9 1044.0 L920.8 1044.0 L927.0 1052.8 L935.8 1053.7 L942.9 1047.5 L950.8 1048.4 L958.7 1054.5 L966.7 1061.6 L974.6 1068.6 L982.5 1071.3 L990.5 1070.4 L998.4 1071.3 L1006.4 1069.5 L1014.3 1067.8 L1022.2 1063.4 L1030.2 1055.4 L1038.1 1053.7 L1046.0 1054.5 L1054.0 1053.7 L1061.9 1065.1 L1069.0 1070.4 L1076.9 1050.1 L1084.9 1040.4 L1092.8 1059.8 L1100.7 1082.8 L1108.7 1092.5 L1116.6 1075.7 L1124.5 1049.3 L1132.5 1047.5 L1140.4 1043.1 L1147.9 1040.4 L1155.9 1042.2 L1163.8 1056.3 L1171.8 1064.2 L1179.7 1059.8 L1187.6 1057.2 L1195.6 1056.3 L1203.5 1055.4 L1210.6 1061.6 L1218.5 1062.5 L1226.4 1051.0 L1234.4 1046.6 L1242.3 1052.8 L1250.2 1059.8 L1258.2 1052.8 L1266.1 1066.0 L1274.1 1069.5 L1281.1 1054.5 L1289.1 1055.4 L1297.0 1072.2 L1305.8 1073.9 L1313.8 1051.0 L1321.7 1039.6 L1329.6 1045.7 L1337.6 1053.7 L1344.6 1058.1 L1352.6 1066.0 L1360.5 1086.3 L1367.6 1105.7 L1376.4 1106.6 L1384.3 1099.5 L1392.2 1102.2 L1400.2 1093.3 L1408.1 1092.5 L1415.2 1114.5 L1423.1 1132.1 L1431.1 1093.3 L1439.0 1087.2 L1446.9 1083.6 L1454.9 1066.9 L1462.8 1060.7 L1470.7 1053.7 L1478.7 1051.0 L1486.6 1044.0 L1494.6 1047.5 L1501.6 1051.0 L1509.6 1029.9 L1517.5 1024.6 L1545.7 1024.6 L1702.3 1024.6 L1713.8 1063.4 L1721.7 1084.5 L1729.6 1044.0 L1737.6 1026.3 L1745.5 1045.7 L1753.4 1051.9 L1761.4 1036.9 L1769.3 1045.7 L1776.4 1049.3 L1784.3 1035.1 L1792.2 1038.7 L1800.2 1063.4 L1808.1 1075.7 L1814.3 1119.8 L1820.5 1176.2 L1824.0 1205.3 L1831.9 1205.3 L1839.0 1119.8 L1846.9 1135.7 L1854.9 1171.8 L1862.8 1148.0 L1870.7 1125.1 L1878.7 1107.4 L1886.6 1107.4 L1894.6 1141.0 L1902.5 1151.5 L1909.6 1133.9 L1917.5 1096.9 L1925.4 1103.9 L1933.4 1118.0 L1941.3 1102.2 L1948.8 1097.7 L1956.8 1151.5 L1965.6 1200.9 L1973.5 1174.5 L1981.5 1199.1 L1989.4 1183.3 L1997.3 1095.1 L2004.4 1089.8 L2012.3 1165.6 L2020.3 1162.1 L2028.2 1093.3 L2035.3 1085.4 L2044.1 1096.9 L2052.0 1090.7 L2059.9 1066.9 L2067.9 1047.5 L2075.8 1046.6 L2082.9 1046.6 L2090.8 1042.2 L2098.8 1054.5 L2106.7 1073.9 L2114.6 1066.0 L2122.6 1061.6 L2130.5 1061.6 L2138.4 1081.0 L2146.4 1093.3 L2154.3 1089.8 L2162.3 1082.8 L2170.2 1059.0 L2178.1 1070.4 L2186.1 1074.8 L2194.0 1073.1 L2201.9 1073.1 L2209.9 1074.8 L2217.8 1077.5 L2225.8 1059.0 L2232.8 1051.9 L2240.8 1066.9 L2248.7 1081.9 L2256.6 1075.7 L2264.6 1076.6 L2271.6 1059.8 L2279.6 1066.0 L2287.5 1082.8 L2295.4 1086.3 L2303.4 1096.9 L2312.2 1107.4 L2319.3 1079.2" fill="none" stroke="#ff8000" stroke-width="5.50" stroke-linejoin="round" stroke-linecap="butt"/>
<line x1="354.5" y1="1024.6" x2="2319.0" y2="1024.6" stroke="#000" stroke-opacity="0.69" stroke-width="5.5" stroke-dasharray="17 15.49"/>
<line x1="1533.2" y1="1223.5" x2="1533.2" y2="826.5" stroke="#000" stroke-opacity="0.9" stroke-width="4" stroke-dasharray="18.5 14" stroke-dashoffset="9.9"/>
</g>
<line x1="747.4" y1="440.5" x2="747.4" y2="463.5" stroke="#000" stroke-width="5"/>
<line x1="1140.3" y1="440.5" x2="1140.3" y2="463.5" stroke="#000" stroke-width="5"/>
<line x1="1533.2" y1="440.5" x2="1533.2" y2="463.5" stroke="#000" stroke-width="5"/>
<line x1="1926.1" y1="440.5" x2="1926.1" y2="463.5" stroke="#000" stroke-width="5"/>
<line x1="747.4" y1="829.5" x2="747.4" y2="852.5" stroke="#000" stroke-width="5"/>
<line x1="1140.3" y1="829.5" x2="1140.3" y2="852.5" stroke="#000" stroke-width="5"/>
<line x1="1533.2" y1="829.5" x2="1533.2" y2="852.5" stroke="#000" stroke-width="5"/>
<line x1="1926.1" y1="829.5" x2="1926.1" y2="852.5" stroke="#000" stroke-width="5"/>
<rect x="374.0" y="60.0" width="438.5" height="63.5" fill="#000"/>
<rect x="356.0" y="42.0" width="436.5" height="61.5" fill="#fff"/>
<line x1="356.0" y1="103.8" x2="794.0" y2="103.8" stroke="#9a9a9a" stroke-width="2.4"/>
<line x1="792.5" y1="42.0" x2="792.5" y2="105.0" stroke="#5a5a5a" stroke-width="3"/>
<line x1="359.0" y1="72.0" x2="465.0" y2="72.0" stroke="#0000ff" stroke-width="6.5"/>
<text x="485.5" y="89.5" font-size="47" textLength="302" lengthAdjust="spacingAndGlyphs">Defective WSSe</text>
<rect x="374.0" y="459.5" width="439.5" height="128.0" fill="#000"/>
<rect x="356.0" y="439.5" width="437.5" height="128.0" fill="#fff"/>
<line x1="356.0" y1="567.8" x2="795.0" y2="567.8" stroke="#9a9a9a" stroke-width="2.4"/>
<line x1="793.5" y1="439.5" x2="793.5" y2="569.0" stroke="#5a5a5a" stroke-width="3"/>
<line x1="359.0" y1="471.0" x2="465.0" y2="471.0" stroke="#ff0000" stroke-width="6.5"/>
<line x1="359.0" y1="538.5" x2="465.0" y2="538.5" stroke="#0000ff" stroke-width="6.5"/>
<text transform="translate(487.5,487.5) scale(0.945,1)" font-size="47">CO<tspan font-size="33" dy="11">2</tspan></text>
<text x="485.5" y="553" font-size="47" textLength="302" lengthAdjust="spacingAndGlyphs">Defective WSSe</text>
<rect x="374.0" y="847.0" width="432.5" height="120.5" fill="#000"/>
<rect x="356.0" y="829.0" width="430.5" height="118.5" fill="#fff"/>
<line x1="356.0" y1="947.8" x2="788.0" y2="947.8" stroke="#9a9a9a" stroke-width="2.4"/>
<line x1="786.5" y1="829.0" x2="786.5" y2="949.0" stroke="#5a5a5a" stroke-width="3"/>
<line x1="359.0" y1="861.0" x2="465.0" y2="861.0" stroke="#00ff00" stroke-width="6.5"/>
<line x1="359.0" y1="917.5" x2="465.0" y2="917.5" stroke="#8000ff" stroke-width="6.5"/>
<line x1="572.0" y1="861.0" x2="680.0" y2="861.0" stroke="#ff8000" stroke-width="6.5"/>
<text transform="translate(485,876.5) scale(0.945,1)" font-size="47">C-<tspan class="i">p</tspan></text>
<text transform="translate(485,933) scale(0.945,1)" font-size="47">O-<tspan class="i">p</tspan></text>
<text transform="translate(699,876.5) scale(0.945,1)" font-size="47">W-<tspan class="i">d</tspan></text>
<g stroke="#000" stroke-width="5.7" fill="none" stroke-linecap="square">
<line x1="354.5" y1="39.5" x2="354.5" y2="1223.5"/>
<line x1="2319.0" y1="39.5" x2="2319.0" y2="1223.5"/>
<line x1="354.5" y1="39.5" x2="2319.0" y2="39.5"/>
<line x1="354.5" y1="437.5" x2="2319.0" y2="437.5"/>
<line x1="354.5" y1="826.5" x2="2319.0" y2="826.5"/>
<line x1="354.5" y1="1223.5" x2="2319.0" y2="1223.5"/>
</g>
<g stroke="#000" stroke-width="5.5">
<line x1="354.5" y1="1223.5" x2="354.5" y2="1250.0"/>
<line x1="747.4" y1="1223.5" x2="747.4" y2="1250.0"/>
<line x1="1140.3" y1="1223.5" x2="1140.3" y2="1250.0"/>
<line x1="1533.2" y1="1223.5" x2="1533.2" y2="1250.0"/>
<line x1="1926.1" y1="1223.5" x2="1926.1" y2="1250.0"/>
<line x1="2319.0" y1="1223.5" x2="2319.0" y2="1250.0"/>
<line x1="326.0" y1="95.9" x2="354.5" y2="95.9"/>
<line x1="326.0" y1="166.8" x2="354.5" y2="166.8"/>
<line x1="326.0" y1="237.7" x2="354.5" y2="237.7"/>
<line x1="326.0" y1="308.6" x2="354.5" y2="308.6"/>
<line x1="326.0" y1="379.5" x2="354.5" y2="379.5"/>
<line x1="326.0" y1="473.9" x2="354.5" y2="473.9"/>
<line x1="326.0" y1="563.9" x2="354.5" y2="563.9"/>
<line x1="326.0" y1="654.0" x2="354.5" y2="654.0"/>
<line x1="326.0" y1="744.1" x2="354.5" y2="744.1"/>
<line x1="326.0" y1="891.4" x2="354.5" y2="891.4"/>
<line x1="326.0" y1="1024.6" x2="354.5" y2="1024.6"/>
<line x1="326.0" y1="1157.8" x2="354.5" y2="1157.8"/>
</g>
<text x="310" y="115.9" font-size="65" text-anchor="end">50</text>
<text x="310" y="186.8" font-size="65" text-anchor="end">25</text>
<text x="310" y="257.7" font-size="65" text-anchor="end">0</text>
<text x="310" y="328.6" font-size="65" text-anchor="end"><tspan class="m" dy="4.4">−</tspan><tspan dy="-4.4">25</tspan></text>
<text x="310" y="399.5" font-size="65" text-anchor="end"><tspan class="m" dy="4.4">−</tspan><tspan dy="-4.4">50</tspan></text>
<text x="310" y="495.4" font-size="65" text-anchor="end">50</text>
<text x="310" y="585.4" font-size="65" text-anchor="end">25</text>
<text x="310" y="675.5" font-size="65" text-anchor="end">0</text>
<text x="310" y="765.6" font-size="65" text-anchor="end"><tspan class="m" dy="4.4">−</tspan><tspan dy="-4.4">25</tspan></text>
<text x="310" y="910.4" font-size="65" text-anchor="end">2</text>
<text x="310" y="1043.6" font-size="65" text-anchor="end">0</text>
<text x="310" y="1176.8" font-size="65" text-anchor="end"><tspan class="m" dy="4.4">−</tspan><tspan dy="-4.4">2</tspan></text>
<text x="347.5" y="1318" font-size="65" text-anchor="middle"><tspan class="m" dy="4.4">−</tspan><tspan dy="-4.4">7.5</tspan></text>
<text x="740.4" y="1318" font-size="65" text-anchor="middle"><tspan class="m" dy="4.4">−</tspan><tspan dy="-4.4">5.0</tspan></text>
<text x="1133.3" y="1318" font-size="65" text-anchor="middle"><tspan class="m" dy="4.4">−</tspan><tspan dy="-4.4">2.5</tspan></text>
<text x="1533.2" y="1318" font-size="65" text-anchor="middle">0.0</text>
<text x="1926.1" y="1318" font-size="65" text-anchor="middle">2.5</text>
<text x="2319.0" y="1318" font-size="65" text-anchor="middle">5.0</text>
<text x="1329" y="1391.5" font-size="77" text-anchor="middle">Energy (eV)</text>
<text transform="translate(79,620) rotate(-90)" font-size="77" text-anchor="middle">DOS(states/eV)</text>
<text x="120" y="78" font-size="70">(a)</text>
<text x="120" y="465" font-size="70">(b)</text>
<text x="120" y="853" font-size="70">(c)</text>
</svg>
</body></html>
